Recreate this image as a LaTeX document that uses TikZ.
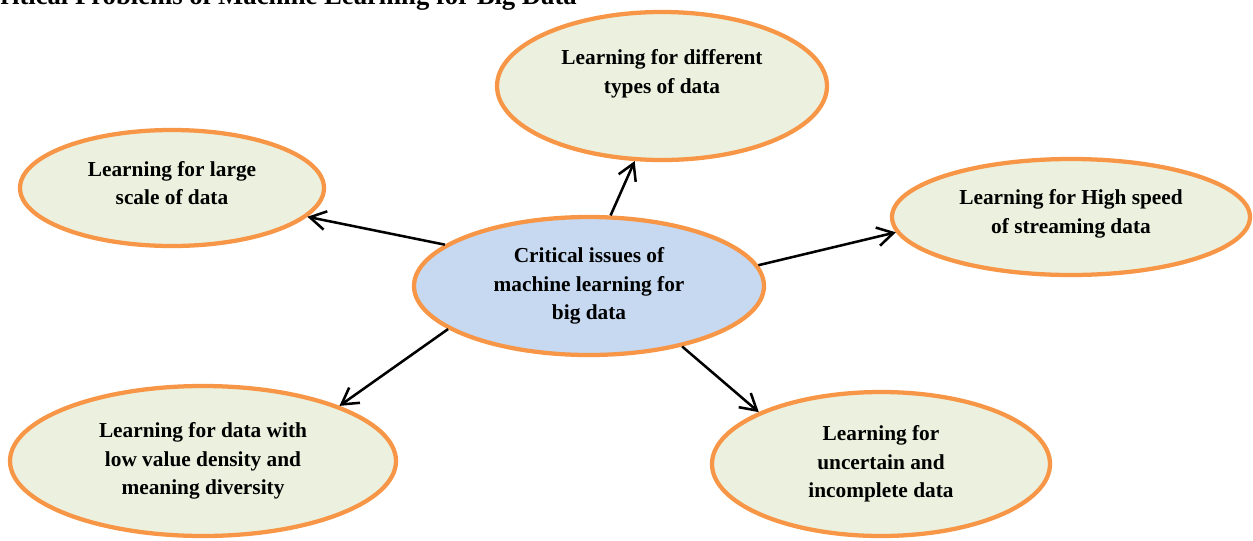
\documentclass[tikz,border=0pt]{standalone}
\usepackage{fontspec}
\setmainfont{Liberation Serif}
\usetikzlibrary{arrows.meta, shapes.geometric}
\definecolor{bord}{HTML}{F79646}
\definecolor{leaf}{HTML}{EBF1DE}
\definecolor{core}{HTML}{C6D9F1}
\tikzset{
  bub/.style={ellipse, draw=bord, line width=3.2pt, fill=leaf, inner sep=0pt, align=center,
    font=\fontsize{16}{21.5}\selectfont\bfseries},
  hub/.style={bub, fill=core},
  arr/.style={-{Straight Barb[length=12pt, width=14pt]}, line width=1.9pt},
  ttl/.style={font=\fontsize{20}{24}\selectfont\bfseries, inner sep=0pt}
}

\begin{document}
\begin{tikzpicture}[x=0.75pt, y=-0.75pt]
  \useasboundingbox (0,0) rectangle (1253,540);
  % heading, clipped by the page
  \node[ttl, anchor=base east] (head) at (577,4) {Critical Problems of Machine Learning for Big Data};
  % centre
  \node[hub, minimum width=262.5pt, minimum height=103.5pt] (hub) at (589,286)
    {Critical issues of\\machine learning for\\big data};
  % the five problems
  \node[bub, minimum width=247.5pt, minimum height=111pt] (types) at (662,86)
    {Learning for different\\types of data\\~};
  \node[bub, minimum width=228pt, minimum height=87pt] (scale) at (172,188)
    {Learning for large\\scale of data\\[-14pt]~};
  \node[bub, minimum width=268.5pt, minimum height=87pt] (speed) at (1071,217)
    {Learning for High speed\\of streaming data\\[-13pt]~};
  \node[bub, minimum width=289.5pt, minimum height=112.5pt] (value) at (203,461)
    {Learning for data with\\low value density and\\meaning diversity};
  \node[bub, minimum width=253.5pt, minimum height=108pt] (uncert) at (881,464)
    {Learning for\\uncertain and\\incomplete data};
  % arrows
  \draw[arr] (hub.73.8) -- (types.250.5);
  \draw[arr] (hub.164.4) -- (scale.348.4);
  \draw[arr] (hub.7.1) -- (speed.185.6);
  \draw[arr] (hub.197.2) -- (value.22.8);
  \draw[arr] (hub.327.8) -- (uncert.157.1);
\end{tikzpicture}
\end{document}
